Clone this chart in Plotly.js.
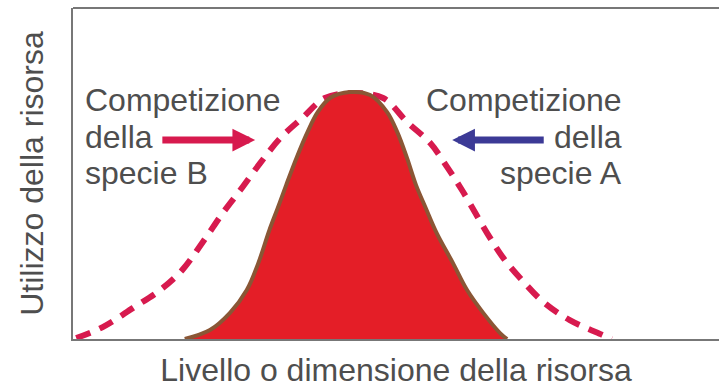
<!DOCTYPE html>
<html>
<head>
<meta charset="utf-8">
<script src="https://cdn.plot.ly/plotly-3.0.1.min.js"></script>
<style>
  html, body { margin: 0; padding: 0; background: #fff; }
  #chart { width: 719px; height: 388px; }
</style>
</head>
<body>
<div id="chart"></div>
<script>
// nicchia fondamentale (curva tratteggiata)
var fondX = [0.5, 4.6, 9.3, 13.5, 16.9, 20.1, 23.2, 25.9, 29.0, 32.1, 35.5, 39.0, 43.2,
             48.0, 51.7, 55.3, 57.9, 60.4, 64.1, 66.6, 69.5, 72.8, 76.9, 82.0, 83.4];
var fondY = [0.3, 3.6, 9.4, 14.8, 20.8, 29.3, 38.1, 45.0, 53.2, 60.7, 66.8, 72.8, 74.3,
             72.8, 65.6, 59.2, 52.0, 44.4, 32.0, 24.5, 17.8, 11.2, 5.7, 1.2, 0];

// nicchia realizzata (area rossa)
var realX = [17.3, 21.2, 24.3, 26.9, 28.7, 30.4, 31.7, 33.0, 34.6, 36.3, 37.9, 39.8, 42.9,
             46.0, 48.6, 50.2, 51.7, 53.1, 54.6, 56.3, 58.8, 61.0, 63.5, 66.1, 67.2];
var realY = [0, 2.7, 7.9, 14.8, 23.0, 32.9, 39.6, 46.5, 54.7, 62.5, 68.6, 72.8, 74.6,
             73.7, 68.6, 62.5, 54.7, 46.5, 39.6, 32.0, 23.0, 14.8, 7.9, 1.8, 0];

var xTitle = 'Livello o dimensione della risorsa';
var yTitle = 'Utilizzo della risorsa';
var labelB = ['Competizione', 'della', 'specie B'];
var labelA = ['Competizione', 'della', 'specie A'];

var textColor = '#4e4e4e';
var font = 'Liberation Sans, Arial, sans-serif';

var fond = {
  x: fondX, y: fondY,
  mode: 'lines',
  line: { color: '#d71a4e', width: 6, dash: '15px,10px', shape: 'spline', smoothing: 1 },
  hoverinfo: 'skip',
  type: 'scatter'
};

var real = {
  x: realX, y: realY,
  mode: 'lines',
  fill: 'tozeroy',
  fillcolor: '#e41e27',
  line: { color: '#8a5635', width: 4, shape: 'spline', smoothing: 1 },
  hoverinfo: 'skip',
  type: 'scatter'
};

var lineY = [72.2, 61.0, 50.2];
var annotations = [];
labelB.forEach(function(t, i) {
  annotations.push({ x: 1.55, y: lineY[i], xref: 'x', yref: 'y', text: t, showarrow: false,
    xanchor: 'left', yanchor: 'middle', font: { size: 32, color: textColor, family: font } });
});
labelA.forEach(function(t, i) {
  annotations.push({ x: 85.3, y: lineY[i], xref: 'x', yref: 'y', text: t, showarrow: false,
    xanchor: 'right', yanchor: 'middle', font: { size: 32, color: textColor, family: font } });
});
// frecce
annotations.push({ x: 28.2, y: 60.1, ax: 13.6, ay: 60.1, xref: 'x', yref: 'y', axref: 'x', ayref: 'y',
  text: '', showarrow: true, arrowhead: 2, arrowwidth: 7, arrowsize: 0.65, arrowcolor: '#d71a4e' });
annotations.push({ x: 58.7, y: 60.1, ax: 73.1, ay: 60.1, xref: 'x', yref: 'y', axref: 'x', ayref: 'y',
  text: '', showarrow: true, arrowhead: 2, arrowwidth: 7, arrowsize: 0.65, arrowcolor: '#3c3a96' });

var layout = {
  width: 719, height: 388,
  margin: { l: 73, r: 0, t: 8, b: 49 },
  paper_bgcolor: '#fff',
  plot_bgcolor: '#fff',
  showlegend: false,
  font: { family: font, color: textColor },
  xaxis: {
    range: [0, 100],
    showgrid: false, zeroline: false, showticklabels: false, ticks: '',
    showline: true, linecolor: '#777', linewidth: 2,
    title: { text: xTitle, font: { size: 32, color: textColor } }
  },
  yaxis: {
    range: [0, 100],
    showgrid: false, zeroline: false, showticklabels: false, ticks: '',
    showline: true, linecolor: '#777', linewidth: 2,
    title: { text: yTitle, standoff: 18, font: { size: 32, color: textColor } }
  },
  shapes: [{
    type: 'line', xref: 'paper', yref: 'paper', x0: 0, x1: 1, y0: 1, y1: 1,
    line: { color: '#777', width: 2 }
  }],
  annotations: annotations
};

Plotly.newPlot('chart', [fond, real], layout, { displayModeBar: false, staticPlot: true });
</script>
</body>
</html>
